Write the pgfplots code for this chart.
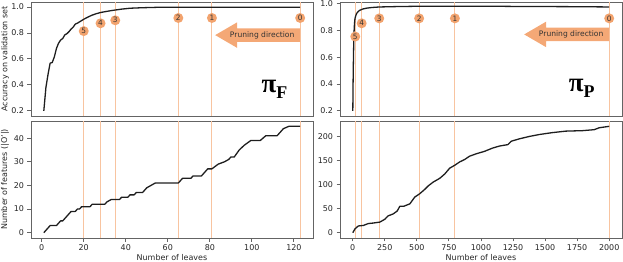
\documentclass[border=0pt]{standalone}
\usepackage{pgfplots}
\pgfplotsset{compat=1.18}
\usepackage{fontspec}
\setmainfont{DejaVu Sans}
\newfontfamily\serifb{Liberation Serif}
\definecolor{vline}{RGB}{248,196,160}
\definecolor{circ}{RGB}{242,163,110}
\definecolor{arr}{RGB}{244,168,118}
\definecolor{curve}{RGB}{30,30,30}
\definecolor{frame}{RGB}{100,100,100}

\tikzset{
  vl/.style={vline, line width=0.9bp},
  cn/.style={circle, fill=circ, inner sep=0pt, minimum size=10bp, font=\fontsize{7.4}{7}\selectfont, text=black!80},
}
\pgfplotsset{
  myax/.style={
    scale only axis, width=282bp, anchor=south west, clip=false,
    axis line style={frame, line width=0.8bp},
    every tick/.style={frame, line width=0.8bp},
    tick align=outside, major tick length=3.5bp,
    xtick pos=bottom, ytick pos=left,
    ticklabel style={font=\fontsize{8}{9}\selectfont, text=black!85},
    /pgf/number format/assume math mode=true,
    /pgf/number format/1000 sep={},
    label style={font=\fontsize{8}{9}\selectfont, text=black!85},
    every axis y label/.append style={at={(axis description cs:-0.092,0.5)}, anchor=center},
  },
  top/.style={myax, height=114bp, xtick=\empty,
    ytick={0.2,0.4,0.6,0.8,1.0},
    yticklabel style={/pgf/number format/.cd, fixed, fixed zerofill, precision=1}},
  bot/.style={myax, height=117bp, xlabel style={yshift=3bp}},
  crv/.style={curve, line width=1.3bp, line join=round},
}
\newcommand{\prunearrow}[1]{%
  \fill[arr] (#1) ++(0,6.7bp) -- ++(-63bp,0) -- ++(0,6.1bp) -- ++(-22bp,-12.8bp) -- ++(22bp,-12.8bp) -- ++(0,6.1bp) -- ++(63bp,0) -- cycle;
  \node[font=\fontsize{7.6}{8}\selectfont, text=black!80] at ([xshift=-38bp]#1) {Pruning direction};}

\begin{document}
\begin{tikzpicture}
\useasboundingbox (0,0) rectangle (623bp,262bp);

% ---------- left top ----------
\begin{axis}[top, at={(31bp,146bp)}, xmin=-5.1, xmax=129.1, ymin=0.160, ymax=1.038,
  ylabel={Accuracy on validation set}]
\pgfplotsinvokeforeach{20,28,35,65,81,123}{\draw[vl] (axis cs:#1,0.160) -- (axis cs:#1,1.038);}
\addplot[crv] coordinates {
(1,0.2) (2,0.38) (3,0.48) (4,0.567) (5,0.572) (6,0.615) (7,0.68) (8,0.72) (9,0.745) (10,0.757)
(11,0.785) (12,0.794) (13,0.81) (14,0.83) (15,0.845) (16,0.868) (17,0.875) (18,0.885) (20,0.905)
(22,0.922) (24,0.937) (26,0.948) (28,0.957) (31,0.966) (34,0.974) (38,0.983) (42,0.99) (48,0.994)
(55,0.997) (65,0.998) (80,0.998) (123,0.998)};
\node[cn] at (axis cs:20,0.814) {5};
\node[cn] at (axis cs:28,0.874) {4};
\node[cn] at (axis cs:35,0.897) {3};
\node[cn] at (axis cs:65,0.915) {2};
\node[cn] at (axis cs:81,0.915) {1};
\node[cn] at (axis cs:123,0.915) {0};
\coordinate (tailL) at (axis cs:123,0.783);
\node at (axis cs:110.8,0.366) {\serifb\bfseries\fontsize{27}{27}\selectfont π\raisebox{-6bp}{\fontsize{18}{18}\selectfont F}};
\end{axis}

% ---------- left bottom ----------
\begin{axis}[bot, at={(31bp,24bp)}, xmin=-5.1, xmax=129.1, ymin=-2.25, ymax=47.25,
  xtick={0,20,40,60,80,100,120}, ytick={0,10,20,30,40},
  xlabel={Number of leaves}, ylabel={Number of features (|O'|)}]
\pgfplotsinvokeforeach{20,28,35,65,81,123}{\draw[vl] (axis cs:#1,-2.25) -- (axis cs:#1,47.25);}
\addplot[crv] coordinates {
(1,0) (4,3) (7,3) (9,5) (10,5) (14,9) (16,9) (17,10) (18,10) (19,11) (23,11) (24,12) (30,12)
(31,13) (33,14) (37,14) (38,15) (41,15) (42,16) (44,16) (45,17) (48,17) (50,19) (52,20) (54,21)
(65,21) (67,23) (71,23) (72,24) (76,24) (78,26) (79,27) (81,27) (84,29) (87,30) (89,31) (90,32)
(91.6,32) (94,35) (96.4,37) (99.5,39) (104,39) (106.6,41) (112,41) (115,44) (117.6,45) (123,45)};
\end{axis}

% ---------- right top ----------
\begin{axis}[top, at={(340bp,146bp)}, xmin=-98.95, xmax=2099.95, ymin=0.161, ymax=1.012]
\pgfplotsinvokeforeach{20,70,207,518,797,2000}{\draw[vl] (axis cs:#1,0.161) -- (axis cs:#1,1.012);}
\addplot[crv] coordinates {
(1,0.2) (3,0.4) (5,0.54) (8,0.7) (10,0.78) (14,0.85) (18,0.89) (25,0.912) (31,0.927) (45,0.943)
(57,0.951) (80,0.96) (109,0.966) (150,0.971) (212,0.975) (350,0.978) (500,0.98) (750,0.981)
(1000,0.981) (1250,0.979) (1500,0.978) (1750,0.977) (2000,0.975)};
\node[cn] at (axis cs:20,0.754) {5};
\node[cn] at (axis cs:70,0.853) {4};
\node[cn] at (axis cs:207,0.89) {3};
\node[cn] at (axis cs:518,0.89) {2};
\node[cn] at (axis cs:797,0.89) {1};
\node[cn] at (axis cs:2000,0.89) {0};
\coordinate (tailR) at (axis cs:2000,0.77);
\node at (axis cs:1786,0.364) {\serifb\bfseries\fontsize{27}{27}\selectfont π\raisebox{-6bp}{\fontsize{18}{18}\selectfont P}};
\end{axis}

% ---------- right bottom ----------
\begin{axis}[bot, at={(340bp,24bp)}, xmin=-98.95, xmax=2099.95, ymin=-11.05, ymax=232.05,
  xtick={0,250,500,750,1000,1250,1500,1750,2000}, ytick={0,50,100,150,200},
  xlabel={Number of leaves}]
\pgfplotsinvokeforeach{20,70,207,518,797,2000}{\draw[vl] (axis cs:#1,-11.05) -- (axis cs:#1,232.05);}
\addplot[crv] coordinates {
(1,0) (5,2) (18,8) (44,14) (83,15) (122,19) (160,20) (212,22) (251,28) (277,35) (316,39) (347,45)
(368,55) (399,55) (446,60) (484,74) (523,81) (562,90) (588,97) (627,105) (679,113) (718,122)
(756,134) (795,140) (834,147) (873,152) (912,159) (964,164) (1028,169) (1093,176) (1145,180)
(1210,183) (1236,190) (1300,195) (1378,200) (1456,204) (1560,208) (1663,211) (1793,212)
(1883,214) (1922,218) (2000,221)};
\end{axis}

\prunearrow{tailL}
\prunearrow{tailR}
\end{tikzpicture}
\end{document}
